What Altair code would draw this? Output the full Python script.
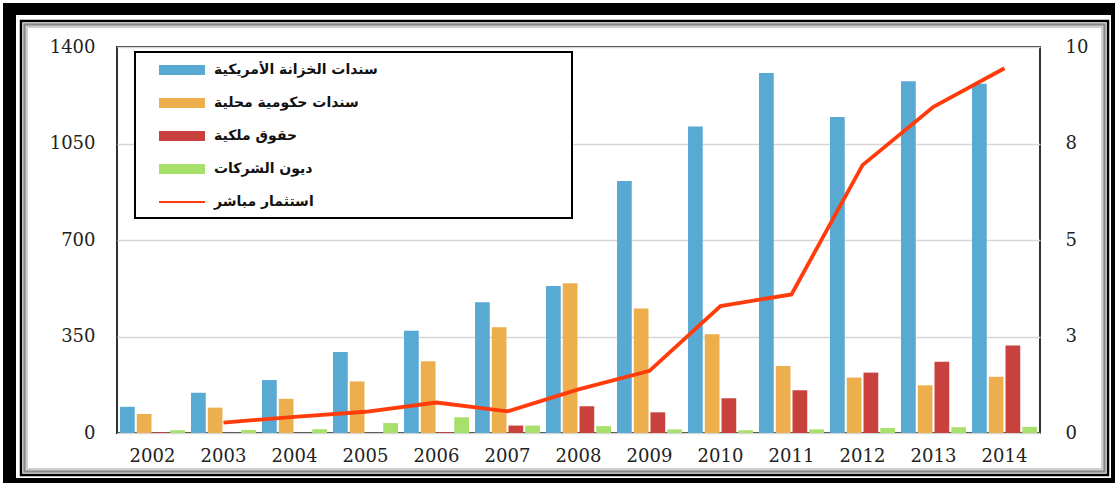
import altair as alt
import pandas as pd

# ---------------- data ----------------
years = [str(y) for y in range(2002, 2015)]
bar_series = ["سندات الخزانة الأمريكية", "سندات حكومية محلية", "حقوق ملكية", "ديون الشركات"]
line_name = "استثمار مباشر"
all_series = bar_series + [line_name]

treasury = [95, 146, 192, 294, 371, 474, 533, 914, 1112, 1306, 1146, 1276, 1267]
local_gov = [69, 92, 124, 187, 260, 384, 543, 452, 358, 243, 201, 173, 204]
equity = [3, 0, 0, 0, 3, 27, 97, 75, 126, 155, 219, 258, 317]
corporate = [10, 11, 14, 36, 57, 27, 25, 13, 10, 13, 18, 21, 22]

line_years = years[1:]
direct = [0.27, 0.42, 0.55, 0.79, 0.56, 1.13, 1.61, 3.29, 3.59, 6.94, 8.45, 9.45]

left_ticks = [0, 350, 700, 1050, 1400]
right_ticks = [0, 2.5, 5, 7.5, 10]

colors = ["#58AAD3", "#EDAF4D", "#C8413C", "#A8E06C", "#FF3C0A"]

# ---------------- layout ----------------
W, H = 1120, 487
OX, OY = 117, 47          # plot origin
PW, PH = 923, 386         # plot size

rows = []
for vals, name in zip([treasury, local_gov, equity, corporate], bar_series):
    for y, v in zip(years, vals):
        rows.append({"year": y, "series": name, "value": v})
bar_df = pd.DataFrame(rows)
line_df = pd.DataFrame({"year": line_years, "series": line_name, "value": direct})
dummy = pd.DataFrame({"d": [0]})

SERIF = "DejaVu Serif"
TXT = "#222222"

bar_path = "M-4.6,-1H4.6V1H-4.6Z"
line_path = "M-4.6,-0.18H4.6V0.18H-4.6Z"

legend = alt.Legend(
    title=None, orient="none", legendX=58, legendY=16, direction="vertical",
    symbolType=alt.ExprRef(expr=f"datum.value === '{line_name}' ? '{line_path}' : '{bar_path}'"),
    symbolSize=100, symbolStrokeWidth=0, symbolOpacity=1,
    labelFont="DejaVu Sans", labelFontSize=14, labelFontWeight="bold", labelColor="#111111",
    labelOffset=25, rowPadding=19, labelLimit=400, padding=0,
)

color_enc = alt.Color("series:N", scale=alt.Scale(domain=all_series, range=colors), legend=legend)

x_enc = alt.X("year:N", scale=alt.Scale(paddingInner=0.085, paddingOuter=0.0425),
              axis=alt.Axis(title=None, labelAngle=0, ticks=False, domain=False, grid=False,
                            labelPadding=14, labelFontSize=18, labelFont=SERIF, labelColor=TXT))

bars = alt.Chart(bar_df).mark_bar().encode(
    x=x_enc,
    xOffset=alt.XOffset("series:N", sort=bar_series,
                        scale=alt.Scale(domain=bar_series, paddingInner=0.12, paddingOuter=0)),
    y=alt.Y("value:Q", scale=alt.Scale(domain=[0, 1400], nice=False),
            axis=alt.Axis(title=None, values=left_ticks, format="d", ticks=False, domain=False, grid=True,
                          gridColor="#d6d6d6", gridWidth=1.5, labelPadding=22,
                          labelFontSize=18, labelFont=SERIF, labelColor=TXT)),
    color=color_enc,
)

line = alt.Chart(line_df).mark_line(strokeWidth=3.8).encode(
    x=alt.X("year:N"),
    y=alt.Y("value:Q", scale=alt.Scale(domain=[0, 10], nice=False),
            axis=alt.Axis(title=None, orient="right", values=right_ticks, labelExpr="round(datum.value)",
                          ticks=False, domain=False, grid=False, labelPadding=25,
                          labelFontSize=18, labelFont=SERIF, labelColor=TXT)),
    color=color_enc,
)


def box(x1, y1, x2, y2, **kw):
    return alt.Chart(dummy).mark_rect(**kw).encode(
        x=alt.value(x1 - OX), x2=alt.value(x2 - OX),
        y=alt.value(y1 - OY), y2=alt.value(y2 - OY))


frame = [
    box(3, 3, 1115, 15, color="black"),
    box(3, 3, 16, 483, color="black"),
    box(1111, 3, 1115, 483, color="black"),
    box(3, 478, 1115, 483, color="black"),
    box(21, 21, 1108, 475, fill="white", fillOpacity=0, stroke="black", strokeWidth=2.5),
    box(24.5, 24.5, 1104.5, 471.5, fill="white", fillOpacity=0, stroke="#8a8a8a", strokeWidth=2.5),
    box(27, 27, 1102, 469, fill="white", fillOpacity=0, stroke="#cfcfcf", strokeWidth=2),
]

legend_box = box(135, 52, 572, 218, fill="white", stroke="black", strokeWidth=2)

chart = alt.layer(*frame, bars, legend_box, line).resolve_scale(
    y="independent"
).properties(
    width=PW, height=PH,
    padding={"left": OX, "top": OY, "right": W - OX - PW, "bottom": H - OY - PH},
    autosize=alt.AutoSizeParams(type="none"),
    background="white",
).configure_view(stroke="#333333", strokeWidth=2)

chart.save("out.html", embed_options={"renderer": "svg", "actions": False})
